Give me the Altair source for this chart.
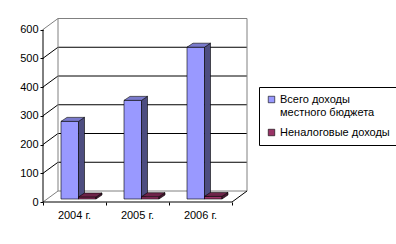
import altair as alt
import pandas as pd

# ---------------- data ----------------
years = ["2004 г.", "2005 г.", "2006 г."]
series = ["Всего доходы местного бюджета", "Неналоговые доходы"]
total_income = [270, 343, 528]
nontax_income = [7, 8, 9]
y_ticks = [0, 100, 200, 300, 400, 500, 600]

front_colors = ["#9999FF", "#993366"]
side_colors = ["#4D4D80", "#4D1933"]
top_colors = ["#7A7ACC", "#6E2449"]

# ---------------- geometry (3D look) ----------------
PX_CAT = 63.0       # px per category
PX_VAL = 0.2875     # px per value unit
W, H = 204, 184
n = len(years)
DX = 15 / PX_CAT    # wall depth (x, category units)
DY = 11 / PX_VAL    # wall depth (y, value units)
BDX = 6 / PX_CAT    # bar depth
BDY = 4 / PX_VAL
BASE = 3 / PX_VAL   # bar base above front floor edge
BAR_L = 18 / PX_CAT
BAR_W = 17.5 / PX_CAT
YMAX = H / PX_VAL
XMAX = n + DX

FONT = "Liberation Sans"
xs = alt.Scale(domain=[0, XMAX], nice=False, zero=False)
ys = alt.Scale(domain=[0, YMAX], nice=False, zero=False)

xaxis = alt.Axis(
    values=list(range(n + 1)), labels=False,
    domain=False, grid=False, tickSize=3, tickColor="black", title=None,
)
yaxis = alt.Axis(
    values=y_ticks, domain=False, grid=False, tickSize=3, tickColor="black",
    labelFont=FONT, labelFontSize=11, labelColor="black",
    labelPadding=2, labelOverlap=False, title=None,
)


def X(field):
    return alt.X(field, scale=xs, axis=xaxis)


def Y(field):
    return alt.Y(field, scale=ys, axis=yaxis)


# ---------------- walls / gridlines ----------------
GRAY = "#808080"
lines = []
for v in y_ticks:
    col = GRAY if v in (y_ticks[0], y_ticks[-1]) else "#000000"
    lines.append(dict(x=DX, x2=XMAX, y=v + DY, y2=v + DY, col=col))   # back wall
    lines.append(dict(x=0, x2=DX, y=v, y2=v + DY, col=col))          # left wall
top_v = y_ticks[-1]
lines.append(dict(x=DX, x2=DX, y=DY, y2=top_v + DY, col=GRAY))
lines.append(dict(x=XMAX, x2=XMAX, y=DY, y2=top_v + DY, col=GRAY))
lines.append(dict(x=n, x2=XMAX, y=0, y2=DY, col="#000000"))
lines.append(dict(x=0, x2=0, y=0, y2=top_v, col="#000000"))          # y axis line
lines.append(dict(x=0, x2=n, y=0, y2=0, col="#000000"))              # x axis line
lines_df = pd.DataFrame(lines)

walls = alt.Chart(lines_df).mark_rule(strokeWidth=1).encode(
    x=X("x:Q"), x2="x2:Q", y=Y("y:Q"), y2="y2:Q",
    stroke=alt.Stroke("col:N", scale=None),
)

# category labels under the front floor edge
cat_df = pd.DataFrame({"year": years, "pos": [i + 0.5 for i in range(n)], "zero": 0})
cat_labels = alt.Chart(cat_df).mark_text(
    font=FONT, fontSize=11, color="black", baseline="top", dy=8
).encode(x=X("pos:Q"), y=Y("zero:Q"), text="year:N")

# ---------------- bars ----------------
layers = [walls, cat_labels]
for s, vals in enumerate([total_income, nontax_income]):
    fronts, sides, tops = [], [], []
    for c, v in enumerate(vals):
        xl = c + BAR_L + s * BAR_W
        xr = xl + BAR_W
        top = BASE + v
        pid = f"{s}-{c}"
        fronts.append(dict(series=series[s], year=years[c], value=v,
                           xl=xl, xr=xr, base=BASE, top=top))
        sides.append(dict(pid=pid, x=xr, y=top, y2=BASE, f=side_colors[s]))
        sides.append(dict(pid=pid, x=xr + BDX, y=top + BDY, y2=BASE + BDY, f=side_colors[s]))
        tops.append(dict(pid=pid, y=top, x=xl, x2=xr, f=top_colors[s]))
        tops.append(dict(pid=pid, y=top + BDY, x=xl + BDX, x2=xr + BDX, f=top_colors[s]))

    front = alt.Chart(pd.DataFrame(fronts)).mark_rect(
        stroke="black", strokeWidth=0.6
    ).encode(
        x=X("xl:Q"), x2="xr:Q", y=Y("base:Q"), y2="top:Q",
        color=alt.Color(
            "series:N",
            scale=alt.Scale(domain=series, range=front_colors),
            legend=alt.Legend(
                title=None, orient="none", legendX=216, legendY=69,
                direction="vertical",
                symbolType="square", symbolSize=42,
                symbolStrokeColor="black", symbolStrokeWidth=0.6,
                labelFont=FONT, labelFontSize=11, labelColor="black",
                labelOffset=3,
                labelExpr=f"datum.label == '{series[0]}' ? ['Всего доходы', 'местного бюджета'] : datum.label",
                labelLimit=200, rowPadding=8, padding=7,
                strokeColor="black", fillColor="white",
            ),
        ),
    )
    side = alt.Chart(pd.DataFrame(sides)).mark_area(
        orient="vertical", stroke="black", strokeWidth=0.6, interpolate="linear"
    ).encode(
        x=X("x:Q"), y=Y("y:Q"), y2="y2:Q",
        detail="pid:N", fill=alt.Fill("f:N", scale=None),
    )
    topf = alt.Chart(pd.DataFrame(tops)).mark_area(
        orient="horizontal", stroke="black", strokeWidth=0.6, interpolate="linear"
    ).encode(
        y=Y("y:Q"), x=X("x:Q"), x2="x2:Q",
        detail="pid:N", fill=alt.Fill("f:N", scale=None),
    )
    layers += [front, side, topf]

chart = alt.layer(*layers).properties(
    width=W, height=H, autosize="none",
    padding={"left": 43, "top": 18, "right": 396 - 43 - W, "bottom": 244 - 18 - H},
    background="white",
).configure_view(stroke=None)

chart.save("out.html", embed_options={"renderer": "svg", "actions": False})
